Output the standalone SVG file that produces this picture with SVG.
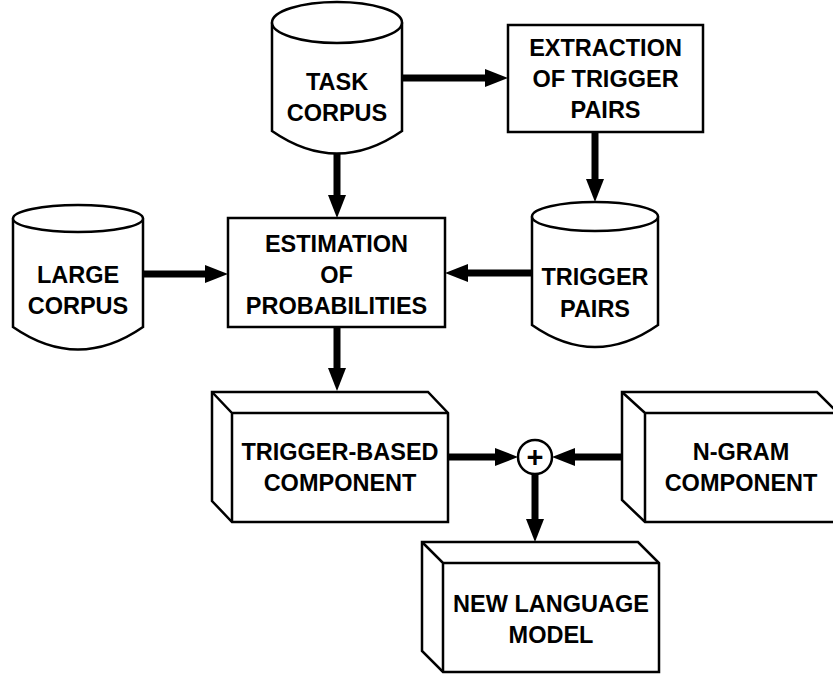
<svg xmlns="http://www.w3.org/2000/svg" width="833" height="675" viewBox="0 0 833 675">
<style>
.s{fill:#fff;stroke:#000;stroke-width:2.5;stroke-linejoin:miter}
.l{fill:none;stroke:#000;stroke-width:2.5}
.c{fill:none;stroke:#000;stroke-width:7}
.h{fill:#000;stroke:none}
text{font-family:"Liberation Sans",Arial,Helvetica,sans-serif;font-weight:bold;font-size:23.5px;text-anchor:middle;fill:#000}
</style>
<rect width="833" height="675" fill="#fff"/>
<g id="connectors">
<line class="c" x1="402" y1="78" x2="486" y2="78"/><polygon class="h" points="485,69 508,78 485,87"/>
<line class="c" x1="337" y1="154" x2="337" y2="196"/><polygon class="h" points="328,195 337,218 346,195"/>
<line class="c" x1="595" y1="132" x2="595" y2="180"/><polygon class="h" points="586,179 595,202 604,179"/>
<line class="c" x1="143" y1="274" x2="206" y2="274"/><polygon class="h" points="205,265 228,274 205,283"/>
<line class="c" x1="532" y1="273" x2="467" y2="273"/><polygon class="h" points="468,264 445,273 468,282"/>
<line class="c" x1="337" y1="327" x2="337" y2="369"/><polygon class="h" points="328,368 337,391 346,368"/>
<line class="c" x1="448" y1="457" x2="496" y2="457"/><polygon class="h" points="495,448 518,457 495,466"/>
<line class="c" x1="622" y1="457" x2="574" y2="457"/><polygon class="h" points="575,448 552,457 575,466"/>
<line class="c" x1="535" y1="474" x2="535" y2="520"/><polygon class="h" points="526,519 535,542 544,519"/>
</g>
<g id="task-corpus">
<path class="s" d="M272,22.5 L272,131 Q337,176 402,131 L402,22.5"/>
<ellipse class="s" cx="337" cy="22.5" rx="65" ry="20.5"/>
<text x="337" y="89.5">TASK</text><text x="337" y="120.5">CORPUS</text>
</g>
<g id="extraction">
<rect class="s" x="508" y="25" width="195" height="107"/>
<text x="605.5" y="55.5">EXTRACTION</text><text x="605.5" y="86.5">OF TRIGGER</text><text x="605.5" y="117.5">PAIRS</text>
</g>
<g id="large-corpus">
<path class="s" d="M13,218.5 L13,327 Q78,372 143,327 L143,218.5"/>
<ellipse class="s" cx="78" cy="218.5" rx="65" ry="13.5"/>
<text x="78" y="283">LARGE</text><text x="78" y="314">CORPUS</text>
</g>
<g id="estimation">
<rect class="s" x="228" y="218" width="217" height="109"/>
<text x="336.5" y="251.5">ESTIMATION</text><text x="336.5" y="282.5">OF</text><text x="336.5" y="313.5">PROBABILITIES</text>
</g>
<g id="trigger-pairs">
<path class="s" d="M532,216.5 L532,325 Q595,369 658,325 L658,216.5"/>
<ellipse class="s" cx="595" cy="216.5" rx="63" ry="14.5"/>
<text x="595" y="285">TRIGGER</text><text x="595" y="316.5">PAIRS</text>
</g>
<g id="trigger-based">
<path class="s" d="M212,392 L428,392 L448,413 L448,522 L232,522 L212,501 Z"/>
<path class="l" d="M212,392 L232,413 L448,413 M232,413 L232,522"/>
<text x="340" y="460">TRIGGER-BASED</text><text x="340" y="491">COMPONENT</text>
</g>
<g id="sum">
<circle class="s" cx="535" cy="457" r="17"/>
<text x="535" y="467" style="font-size:29px">+</text>
</g>
<g id="ngram">
<path class="s" d="M622,392 L817,392 L838,413 L838,522 L645,522 L622,500 Z"/>
<path class="l" d="M622,392 L645,413 L838,413 M645,413 L645,522"/>
<text x="741" y="460">N-GRAM</text><text x="741" y="491">COMPONENT</text>
</g>
<g id="new-model">
<path class="s" d="M422,542 L638,542 L659,563 L659,672 L443,672 L422,651 Z"/>
<path class="l" d="M422,542 L443,563 L659,563 M443,563 L443,672"/>
<text x="551" y="611.5">NEW LANGUAGE</text><text x="551" y="642.5">MODEL</text>
</g>
</svg>
